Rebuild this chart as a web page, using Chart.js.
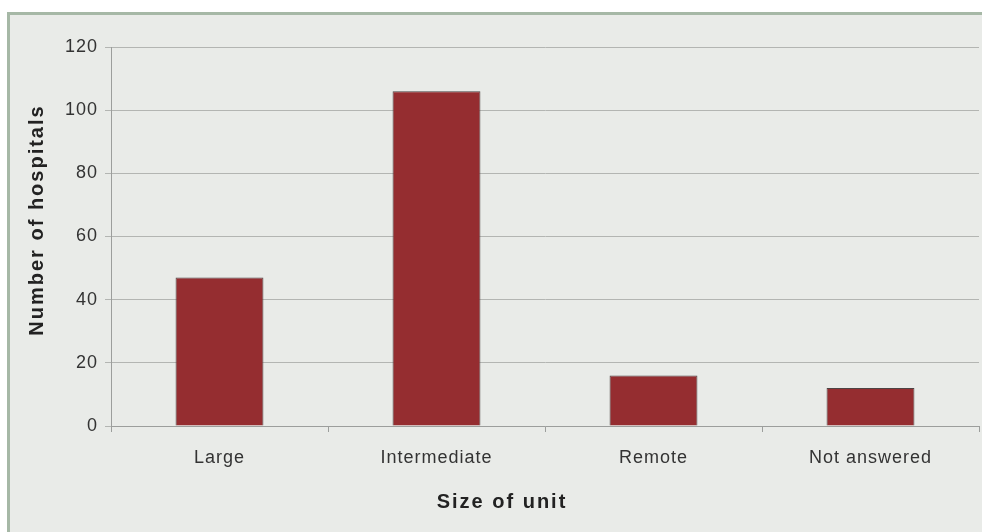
<!DOCTYPE html>
<html lang="en">
<head>
    <meta charset="UTF-8">
    <title>Number of hospitals by size of unit</title>
    <style>
        html, body { margin: 0; padding: 0; background: #ffffff; }
        #wrap { position: relative; width: 982px; height: 532px; }
    </style>
</head>
<body>
    <div id="wrap">
        <canvas id="unitChart"></canvas>
    </div>
    <script src="https://cdn.jsdelivr.net/npm/chart.js@4/dist/chart.umd.min.js"></script>
    <script>
        // chart values
        const categories = ['Large', 'Intermediate', 'Remote', 'Not answered'];
        const hospitals = [47, 106, 16, 12];
        const yMin = 0;
        const yMax = 120;
        const yStep = 20;
        const xTitle = 'Size of unit';
        const yTitle = 'Number of hospitals';

        const font = '"Liberation Sans", Arial, sans-serif';

        // grey-green panel behind the chart + hand placed axis titles
        const panelPlugin = {
            id: 'panel',
            beforeDraw(chart) {
                const ctx = chart.ctx;
                ctx.save();
                ctx.fillStyle = '#ffffff';
                ctx.fillRect(0, 0, chart.width, chart.height);
                ctx.fillStyle = '#e9ebe8';
                ctx.fillRect(7, 12, chart.width - 7, chart.height - 12);
                ctx.fillStyle = '#a6b8a6';
                ctx.fillRect(7, 12, chart.width - 7, 3);
                ctx.fillRect(7, 12, 3, chart.height - 12);
                ctx.restore();
                ctx.letterSpacing = '1px';
            },
            afterDraw(chart) {
                const ctx = chart.ctx;
                ctx.save();
                ctx.letterSpacing = '2px';
                ctx.font = 'bold 20px ' + font;
                ctx.fillStyle = '#222222';
                ctx.textAlign = 'center';
                ctx.textBaseline = 'middle';
                ctx.fillText(xTitle, 502, 502);
                ctx.translate(37, 220);
                ctx.rotate(-Math.PI / 2);
                ctx.fillText(yTitle, 0, 0);
                ctx.restore();
            }
        };

        new Chart(document.getElementById('unitChart'), {
            type: 'bar',
            data: {
                labels: categories,
                datasets: [{
                    data: hospitals,
                    backgroundColor: '#952d30',
                    borderColor: '#4e4444',
                    borderWidth: 1,
                    barPercentage: 0.405,
                    categoryPercentage: 1.0
                }]
            },
            options: {
                responsive: true,
                maintainAspectRatio: false,
                animation: false,
                layout: { padding: { top: 47, right: 3, bottom: 0, left: 0 } },
                plugins: {
                    legend: { display: false },
                    tooltip: { enabled: false }
                },
                scales: {
                    x: {
                        afterFit(scale) { scale.height = 106; },
                        grid: {
                            offset: true,
                            drawOnChartArea: false,
                            color: '#9c9e9c',
                            tickLength: 6
                        },
                        border: { color: '#9c9e9c' },
                        ticks: {
                            padding: 15,
                            color: '#333333',
                            font: { family: font, size: 18 }
                        }
                    },
                    y: {
                        min: yMin,
                        max: yMax,
                        afterFit(scale) { scale.width = 111; },
                        grid: {
                            color: '#b3b5b2',
                            tickLength: 6
                        },
                        border: { color: '#9c9e9c' },
                        ticks: {
                            stepSize: yStep,
                            padding: 7,
                            color: '#333333',
                            font: { family: font, size: 18 }
                        }
                    }
                }
            },
            plugins: [panelPlugin]
        });
    </script>
</body>
</html>
